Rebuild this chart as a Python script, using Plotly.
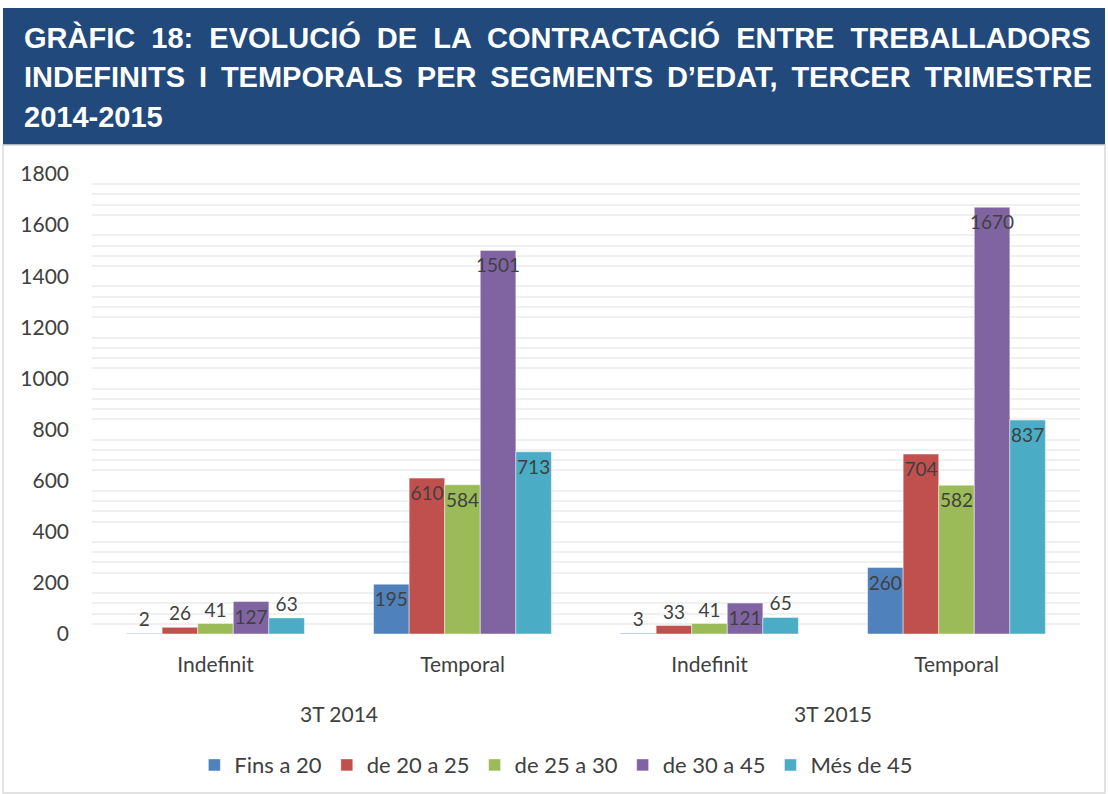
import plotly.graph_objects as go

# ---------------------------------------------------------------
# Data
# ---------------------------------------------------------------
periods = ["3T 2014", "3T 2015"]
contracts = ["Indefinit", "Temporal"]
categories = ["3T 2014 Indefinit", "3T 2014 Temporal", "3T 2015 Indefinit", "3T 2015 Temporal"]
category_labels = ["Indefinit", "Temporal", "Indefinit", "Temporal"]

fins_20 = [2, 195, 3, 260]
de_20_25 = [26, 610, 33, 704]
de_25_30 = [41, 584, 41, 582]
de_30_45 = [127, 1501, 121, 1670]
mes_45 = [63, 713, 65, 837]

series_names = ["Fins a 20", "de 20 a 25", "de 25 a 30", "de 30 a 45", "Més de 45"]
series_values = [fins_20, de_20_25, de_25_30, de_30_45, mes_45]
colors = ["#4F81BD", "#C0504D", "#9BBB59", "#8064A2", "#4BACC6"]

title_lines = [
    "GRÀFIC 18: EVOLUCIÓ DE LA CONTRACTACIÓ ENTRE TREBALLADORS",
    "INDEFINITS I TEMPORALS PER SEGMENTS D’EDAT, TERCER TRIMESTRE",
    "2014-2015",
]
# extra spacing between words, to mimic the justified title
title_gaps = [" \u00a0", " \u2009", " "]

FONT = "Lato"
TXT = "#404040"

fig = go.Figure()

for name, vals, col in zip(series_names, series_values, colors):
    fig.add_trace(go.Bar(
        name=name,
        x=categories,
        y=vals,
        marker=dict(color=col, line=dict(color="rgba(255,255,255,0.45)", width=1)),
        text=[str(v) for v in vals],
        textposition=["auto" if c == "Indefinit" else "inside" for c in category_labels],
        insidetextanchor="end",
        textangle=0,
        constraintext="none",
        textfont=dict(family=FONT, size=19, color=TXT),
        insidetextfont=dict(family=FONT, size=19, color=TXT),
        outsidetextfont=dict(family=FONT, size=19, color=TXT),
        cliponaxis=False,
    ))

# title banner
fig.add_shape(type="rect", xref="x domain", yref="y domain",
              x0=-89 / 988, x1=1 + 25 / 988, y0=1 + 29 / 460, y1=1 + 166 / 460,
              fillcolor="#21497C", line_width=0, layer="below")
# light frame around the chart body
fig.add_shape(type="rect", xref="x domain", yref="y domain",
              x0=-89 / 988, x1=1 + 25 / 988, y0=-159 / 460, y1=1 + 29 / 460,
              fillcolor="rgba(0,0,0,0)", line=dict(color="#D9D9D9", width=1.5),
              layer="below")

for i, (line, gap) in enumerate(zip(title_lines, title_gaps)):
    fig.add_annotation(
        text="<b>" + line.replace(" ", gap) + "</b>",
        xref="x domain", yref="y domain",
        x=-70 / 988, y=1 + (137 - 40 * i) / 460,
        xanchor="left", yanchor="middle", showarrow=False,
        font=dict(family="Liberation Sans", size=29, color="white"),
    )

# period labels under the category labels
for j, p in enumerate(periods):
    fig.add_annotation(
        text=p, xref="x domain", yref="y domain",
        x=0.25 + 0.5 * j, y=-79 / 460,
        xanchor="center", yanchor="middle", showarrow=False,
        font=dict(family=FONT, size=21, color=TXT),
    )

fig.update_layout(
    width=1108,
    height=794,
    barmode="group",
    bargap=0.28,
    bargroupgap=0,
    uniformtext=dict(minsize=19, mode="show"),
    plot_bgcolor="white",
    paper_bgcolor="white",
    margin=dict(l=92, r=28, t=174, b=160, autoexpand=False),
    font=dict(family=FONT, size=20, color=TXT),
    showlegend=True,
    legend=dict(
        orientation="h", x=0.47, xanchor="center", y=-0.285, yanchor="middle",
        font=dict(family=FONT, size=22, color=TXT),
        itemwidth=30, tracegroupgap=0,
    ),
)

fig.update_xaxes(
    type="category",
    tickmode="array",
    tickvals=categories,
    ticktext=category_labels,
    showgrid=False,
    ticks="",
    ticklabelstandoff=16,
    tickfont=dict(family=FONT, size=21, color=TXT),
)

fig.update_yaxes(
    range=[0, 1800],
    dtick=200,
    showgrid=False,
    zeroline=False,
    ticks="",
    ticklabelstandoff=22,
    tickfont=dict(family=FONT, size=21, color=TXT),
    minor=dict(dtick=40, showgrid=True, gridcolor="#F0F0F0", gridwidth=1.5, ticks=""),
)

fig.write_html(
    "out.html",
    config={"displayModeBar": False},
    post_script="document.body.style.margin='0';",
)
